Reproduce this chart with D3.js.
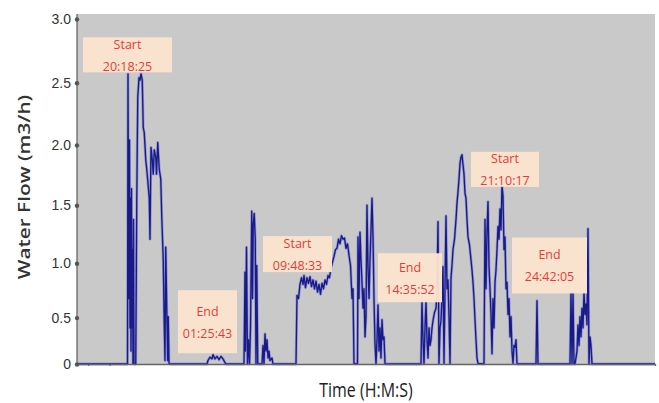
<!DOCTYPE html>
<html>
<head>
<meta charset="utf-8">
<script src="https://cdn.jsdelivr.net/npm/d3@7"></script>
<style>
  body { margin: 0; background: #fff; }
  svg { display: block; font-family: "Open Sans", sans-serif; }
  .y.axis text { font-size: 14px; fill: #333; }
  .y.axis path, .x.axis path { stroke: #666; stroke-width: 1.3; }
  .x.axis line { stroke: #555; }
  .anno text { font-size: 12.5px; fill: #e63b36; text-anchor: middle; }
</style>
</head>
<body>
<div id="chart"></div>
<script>
// y axis ticks (m3/h)
var yTicks = [0, 0.5, 1.0, 1.5, 2.0, 2.5, 3.0];
// small x ticks (hours from day 1 00:00)
var xTicks = [16.9, 18.6];

// water flow readings: [hour, m3/h]
var waterFlow = [
  [16, 0],
  // first burst
  [19.92, 0], [20.04, 0], [20.08, 2.57], [20.14, 0.68], [20.20, 2.04], [20.24, 0.40], [20.28, 1.56],
  [20.32, 0.16], [20.36, 1.64], [20.40, 0.40], [20.44, 1.12], [20.48, 0.01], [20.52, 1.38], [20.56, 0],
  [20.70, 0], [20.78, 1.53], [20.86, 2.38], [20.96, 2.54], [21.04, 2.52], [21.12, 2.57], [21.22, 2.52],
  [21.30, 2.14], [21.38, 2.10], [21.50, 1.88], [21.58, 1.80], [21.70, 1.66], [21.78, 1.56], [21.84, 1.21],
  [21.92, 1.98], [22.02, 1.88], [22.10, 1.76], [22.18, 1.96], [22.30, 1.90], [22.36, 1.76], [22.46, 2.02],
  [22.58, 1.80], [22.70, 1.72], [22.78, 1.41], [22.90, 1.03], [22.98, 0.43], [23.04, 0.05], [23.10, 1.14],
  [23.18, 0.59], [23.26, 0.05], [23.30, 0.51], [23.36, 0.01], [23.44, 0],
  // low flow during the night
  [26.40, 0], [26.48, 0.05], [26.64, 0.09], [26.80, 0.07], [26.88, 0.12], [27.04, 0.07], [27.20, 0.10],
  [27.36, 0.06], [27.52, 0.10], [27.68, 0.07], [27.84, 0.02], [27.92, 0],
  // morning spikes
  [29.36, 0], [29.44, 0.92], [29.48, 0.16], [29.56, 1.14], [29.64, 0], [29.72, 0.28], [29.80, 0],
  [29.88, 0.40], [29.98, 1.45], [30.04, 0.68], [30.10, 1.34], [30.18, 1.43], [30.26, 1.21], [30.32, 0],
  [30.38, 0.98], [30.46, 0],
  [30.80, 0], [30.88, 0.22], [30.96, 0], [31.04, 0.34], [31.12, 0.16], [31.20, 0.28], [31.28, 0.08],
  [31.36, 0.16], [31.44, 0.05], [31.60, 0.08], [31.68, 0],
  // second burst
  [33.52, 0], [33.60, 0.71], [33.72, 0.68], [33.84, 0.81], [33.96, 0.87], [34.08, 0.81], [34.16, 0.89],
  [34.28, 0.78], [34.40, 0.87], [34.52, 0.82], [34.64, 0.88], [34.76, 0.79], [34.88, 0.85], [35.00, 0.77],
  [35.12, 0.84], [35.24, 0.74], [35.36, 0.81], [35.48, 0.72], [35.60, 0.82], [35.72, 0.77], [35.84, 0.85],
  [35.96, 0.81], [36.08, 0.89], [36.20, 0.87], [36.32, 0.96], [36.44, 1.01], [36.56, 1.06], [36.68, 1.12],
  [36.80, 1.13], [36.92, 1.21], [37.04, 1.17], [37.16, 1.24], [37.28, 1.21], [37.40, 1.22], [37.52, 1.13],
  [37.64, 1.17], [37.76, 1.07], [37.88, 0.98], [38.00, 0.68], [38.08, 0.77], [38.16, 0.01], [38.32, 0],
  [38.44, 0.01], [38.48, 1.23], [38.56, 0.68], [38.64, 1.27], [38.72, 1.03], [38.80, 0.83], [38.88, 0.59],
  [38.96, 0.77], [39.04, 0.31], [39.12, 0.51], [39.20, 1.50], [39.28, 0.97], [39.36, 0.68], [39.44, 1.03],
  [39.52, 1.29], [39.60, 1.56], [39.68, 1.23], [39.76, 0.68], [39.84, 0.24], [39.92, 0], [40.00, 0.28],
  [40.08, 0.62], [40.16, 0.16], [40.24, 0.40], [40.32, 0.08], [40.40, 0.48], [40.48, 0.28], [40.56, 0.31],
  [40.64, 0],
  // third burst
  [43.52, 0], [43.60, 0.66], [43.68, 0.28], [43.76, 0], [43.84, 0.40], [43.92, 0.66], [44.00, 0.28],
  [44.08, 0.08], [44.16, 0.40], [44.24, 0.22], [44.32, 0.28], [44.40, 0.40], [44.48, 0.47], [44.60, 0.55],
  [44.72, 0.59], [44.80, 0.77], [44.88, 1.36], [44.96, 0.01], [45.04, 0.40], [45.12, 0.47], [45.20, 0.68],
  [45.28, 0.97], [45.36, 0.01], [45.44, 0.77], [45.52, 1.41], [45.60, 0.77], [45.68, 0.85], [45.76, 0.51],
  [45.84, 0.01], [45.92, 0.87], [46.00, 0.98], [46.08, 1.12], [46.20, 1.21], [46.32, 1.38], [46.40, 1.52],
  [46.48, 1.61], [46.56, 1.72], [46.64, 1.85], [46.72, 1.90], [46.80, 1.92], [46.88, 1.84], [46.96, 1.76],
  [47.04, 1.60], [47.12, 1.56], [47.20, 1.38], [47.28, 1.23], [47.40, 1.16], [47.52, 1.03], [47.60, 0.94],
  [47.68, 0.83], [47.76, 0.68], [47.84, 0.48], [47.92, 0.28], [48.00, 0.08], [48.08, 0.01], [48.56, 0],
  [48.64, 1.38], [48.72, 0.77], [48.80, 1.27], [48.88, 1.53], [48.96, 0.97], [49.04, 0.77], [49.12, 0.53],
  [49.20, 0.13], [49.28, 0.68], [49.36, 0.40], [49.44, 0.83], [49.52, 0.94], [49.60, 1.12], [49.68, 1.32],
  [49.76, 1.21], [49.84, 1.47], [49.92, 1.29], [50.00, 1.66], [50.08, 1.58], [50.16, 1.12], [50.24, 1.23],
  [50.32, 0.77], [50.40, 0.83], [50.48, 0.53], [50.56, 0.68], [50.64, 0.31], [50.72, 0.51], [50.80, 0.16],
  [50.88, 0.01], [50.96, 0.22], [51.04, 0.20], [51.12, 0.28], [51.20, 0],
  // late spikes
  [52.72, 0], [52.80, 0.66], [52.88, 0],
  [55.44, 0], [55.52, 0.74], [55.60, 0], [55.68, 0.74], [55.76, 0], [55.84, 0], [56.00, 0.16],
  [56.08, 0.43], [56.16, 0.22], [56.24, 0.51], [56.32, 0.31], [56.40, 0.59], [56.48, 0.40], [56.56, 0.74],
  [56.64, 0.53], [56.72, 0.63], [56.80, 0.43], [56.88, 1.30], [56.96, 0], [57.04, 0.31], [57.12, 0.22],
  [57.20, 0],
  [62.24, 0]
];

// start / end annotations, anchored at box centre [hour, m3/h]
var annoLabels = ["Start", "End", "Start", "End", "Start", "End"];
var annoTimes = ["20:18:25", "01:25:43", "09:48:33", "14:35:52", "21:10:17", "24:42:05"];
var annoHours = [20.04, 26.44, 33.64, 42.64, 50.24, 53.80];
var annoValues = [2.72, 0.46, 1.08, 0.87, 1.80, 0.98];

var width = 659, height = 403;

var svg = d3.select("#chart").append("svg")
    .attr("width", width)
    .attr("height", height);

var x = d3.scaleLinear()
    .domain([16, 62.24])
    .range([77, 655]);

// the picture is slightly compressed near zero, a mild power scale fits it
var y = d3.scalePow()
    .exponent(1.12)
    .domain([0, 3])
    .range([364, 19]);

// grey plot area
svg.append("rect")
    .attr("x", x.range()[0])
    .attr("y", y(3) - 5)
    .attr("width", x.range()[1] - x.range()[0])
    .attr("height", y(0) - y(3) + 5)
    .attr("fill", "#c9c9c9");

// flow line, a light halo below the dark trace
var line = d3.line()
    .x(function(d) { return x(d[0]); })
    .y(function(d) { return y(d[1]); });

svg.append("path")
    .datum(waterFlow)
    .attr("d", line)
    .attr("fill", "none")
    .attr("stroke", "#6d70d4")
    .attr("stroke-width", 2.8)
    .attr("stroke-opacity", 0.55)
    .attr("stroke-linejoin", "round");

svg.append("path")
    .datum(waterFlow)
    .attr("d", line)
    .attr("fill", "none")
    .attr("stroke", "#181a88")
    .attr("stroke-width", 1.35)
    .attr("stroke-linejoin", "round");

// axes
svg.append("g")
    .attr("class", "x axis")
    .attr("transform", "translate(0," + y(0) + ")")
    .call(d3.axisBottom(x).tickValues(xTicks).tickSize(2).tickFormat(""));

var yAxis = svg.append("g")
    .attr("class", "y axis")
    .attr("transform", "translate(" + x.range()[0] + ",0)")
    .call(d3.axisLeft(y)
        .tickValues(yTicks)
        .tickSize(0)
        .tickPadding(6)
        .tickFormat(function(d) { return d === 0 ? "0" : d3.format(".1f")(d); }));

yAxis.select(".domain").attr("d", "M0," + (y(3) - 5) + "V" + y(0));

yAxis.selectAll(".tick").append("circle")
    .attr("r", 2.2)
    .attr("fill", "#555");

// axis titles
svg.append("text")
    .attr("transform", "translate(24," + 187 + ") rotate(-90) scale(1.3,1)")
    .attr("text-anchor", "middle")
    .attr("dominant-baseline", "central")
    .style("font-size", "16px")
    .style("font-weight", 600)
    .style("fill", "#333")
    .text("Water Flow (m3/h)");

svg.append("text")
    .attr("transform", "translate(366,397) scale(1,1.3)")
    .attr("text-anchor", "middle")
    .style("font-size", "16px")
    .style("fill", "#222")
    .text("Time (H:M:S)");

// annotation boxes
var annoBox = [[89, 35], [59, 63], [69, 36], [64, 49], [68, 35], [75, 56]];

var anno = svg.selectAll(".anno")
    .data(annoLabels)
    .enter().append("g")
    .attr("class", "anno")
    .attr("transform", function(d, i) {
        return "translate(" + x(annoHours[i]) + "," + y(annoValues[i]) + ")";
    });

anno.append("rect")
    .attr("x", function(d, i) { return -annoBox[i][0] / 2; })
    .attr("y", function(d, i) { return -annoBox[i][1] / 2; })
    .attr("width", function(d, i) { return annoBox[i][0]; })
    .attr("height", function(d, i) { return annoBox[i][1]; })
    .attr("fill", "#fde5cf")
    .attr("fill-opacity", 0.95);

anno.append("text")
    .attr("y", -6)
    .text(function(d) { return d; });

anno.append("text")
    .attr("y", 16)
    .text(function(d, i) { return annoTimes[i]; });
</script>
</body>
</html>
